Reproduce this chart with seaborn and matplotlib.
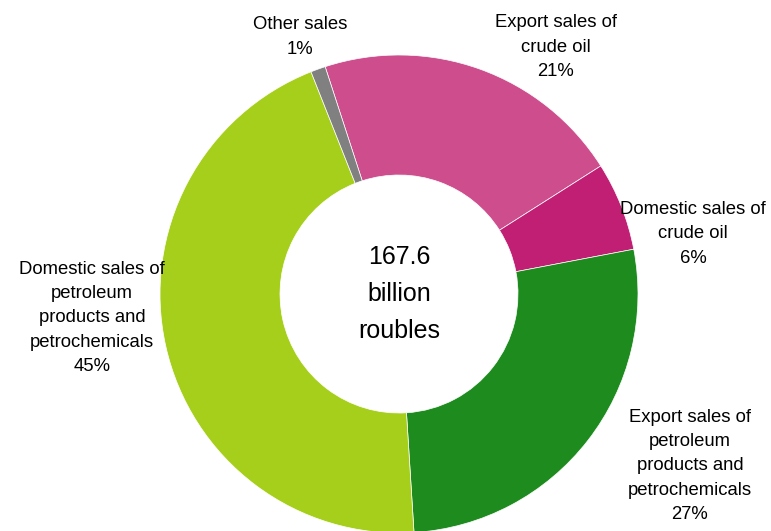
import matplotlib
matplotlib.use("Agg")
import matplotlib.pyplot as plt
from matplotlib import font_manager
import seaborn as sns

# Revenue breakdown by sales channel (share of total, %)
categories = [
    "Export sales of\ncrude oil",
    "Domestic sales of\ncrude oil",
    "Export sales of\npetroleum\nproducts and\npetrochemicals",
    "Domestic sales of\npetroleum\nproducts and\npetrochemicals",
    "Other sales",
]
shares = [21, 6, 27, 45, 1]
colors = ["#CD4D8D", "#C01F74", "#1E8B1E", "#A6CF1B", "#808080"]
total_label = "167.6\nbillion\nroubles"

sns.set_theme(style="white")
names = {f.name for f in font_manager.fontManager.ttflist}
if "Liberation Sans Narrow" in names:
    family, label_size, center_size, ls_label = "Liberation Sans Narrow", 15, 21.5, 1.4
else:
    family, label_size, center_size, ls_label = "Liberation Sans", 13.3, 18, 1.54
plt.rcParams["font.family"] = [family, "DejaVu Sans"]

W, H = 771, 531
fig = plt.figure(figsize=(W / 100, H / 100), dpi=100)
ax = fig.add_axes([0, 0, 1, 1])

cx, cy, R = 399, H - 294, 239
ax.pie(
    shares,
    colors=colors,
    startangle=108,
    counterclock=False,
    radius=R,
    center=(cx, cy),
    wedgeprops=dict(width=120, edgecolor="white", linewidth=0.5),
)
ax.set_xlim(0, W)
ax.set_ylim(0, H)
ax.set_aspect("auto")
ax.axis("off")

# label anchor points (x, y from top)
label_pos = [(556, 47), (693, 234), (690, 466), (92, 318), (300, 37)]
for name, val, (x, y) in zip(categories, shares, label_pos):
    ax.text(x, H - y, f"{name}\n{val}%", ha="center", va="center",
            fontsize=label_size, linespacing=ls_label, color="black")

ax.text(cx, H - 294, total_label, ha="center", va="center",
        fontsize=center_size, linespacing=1.7, color="black")

fig.savefig("out.png", dpi=100)
